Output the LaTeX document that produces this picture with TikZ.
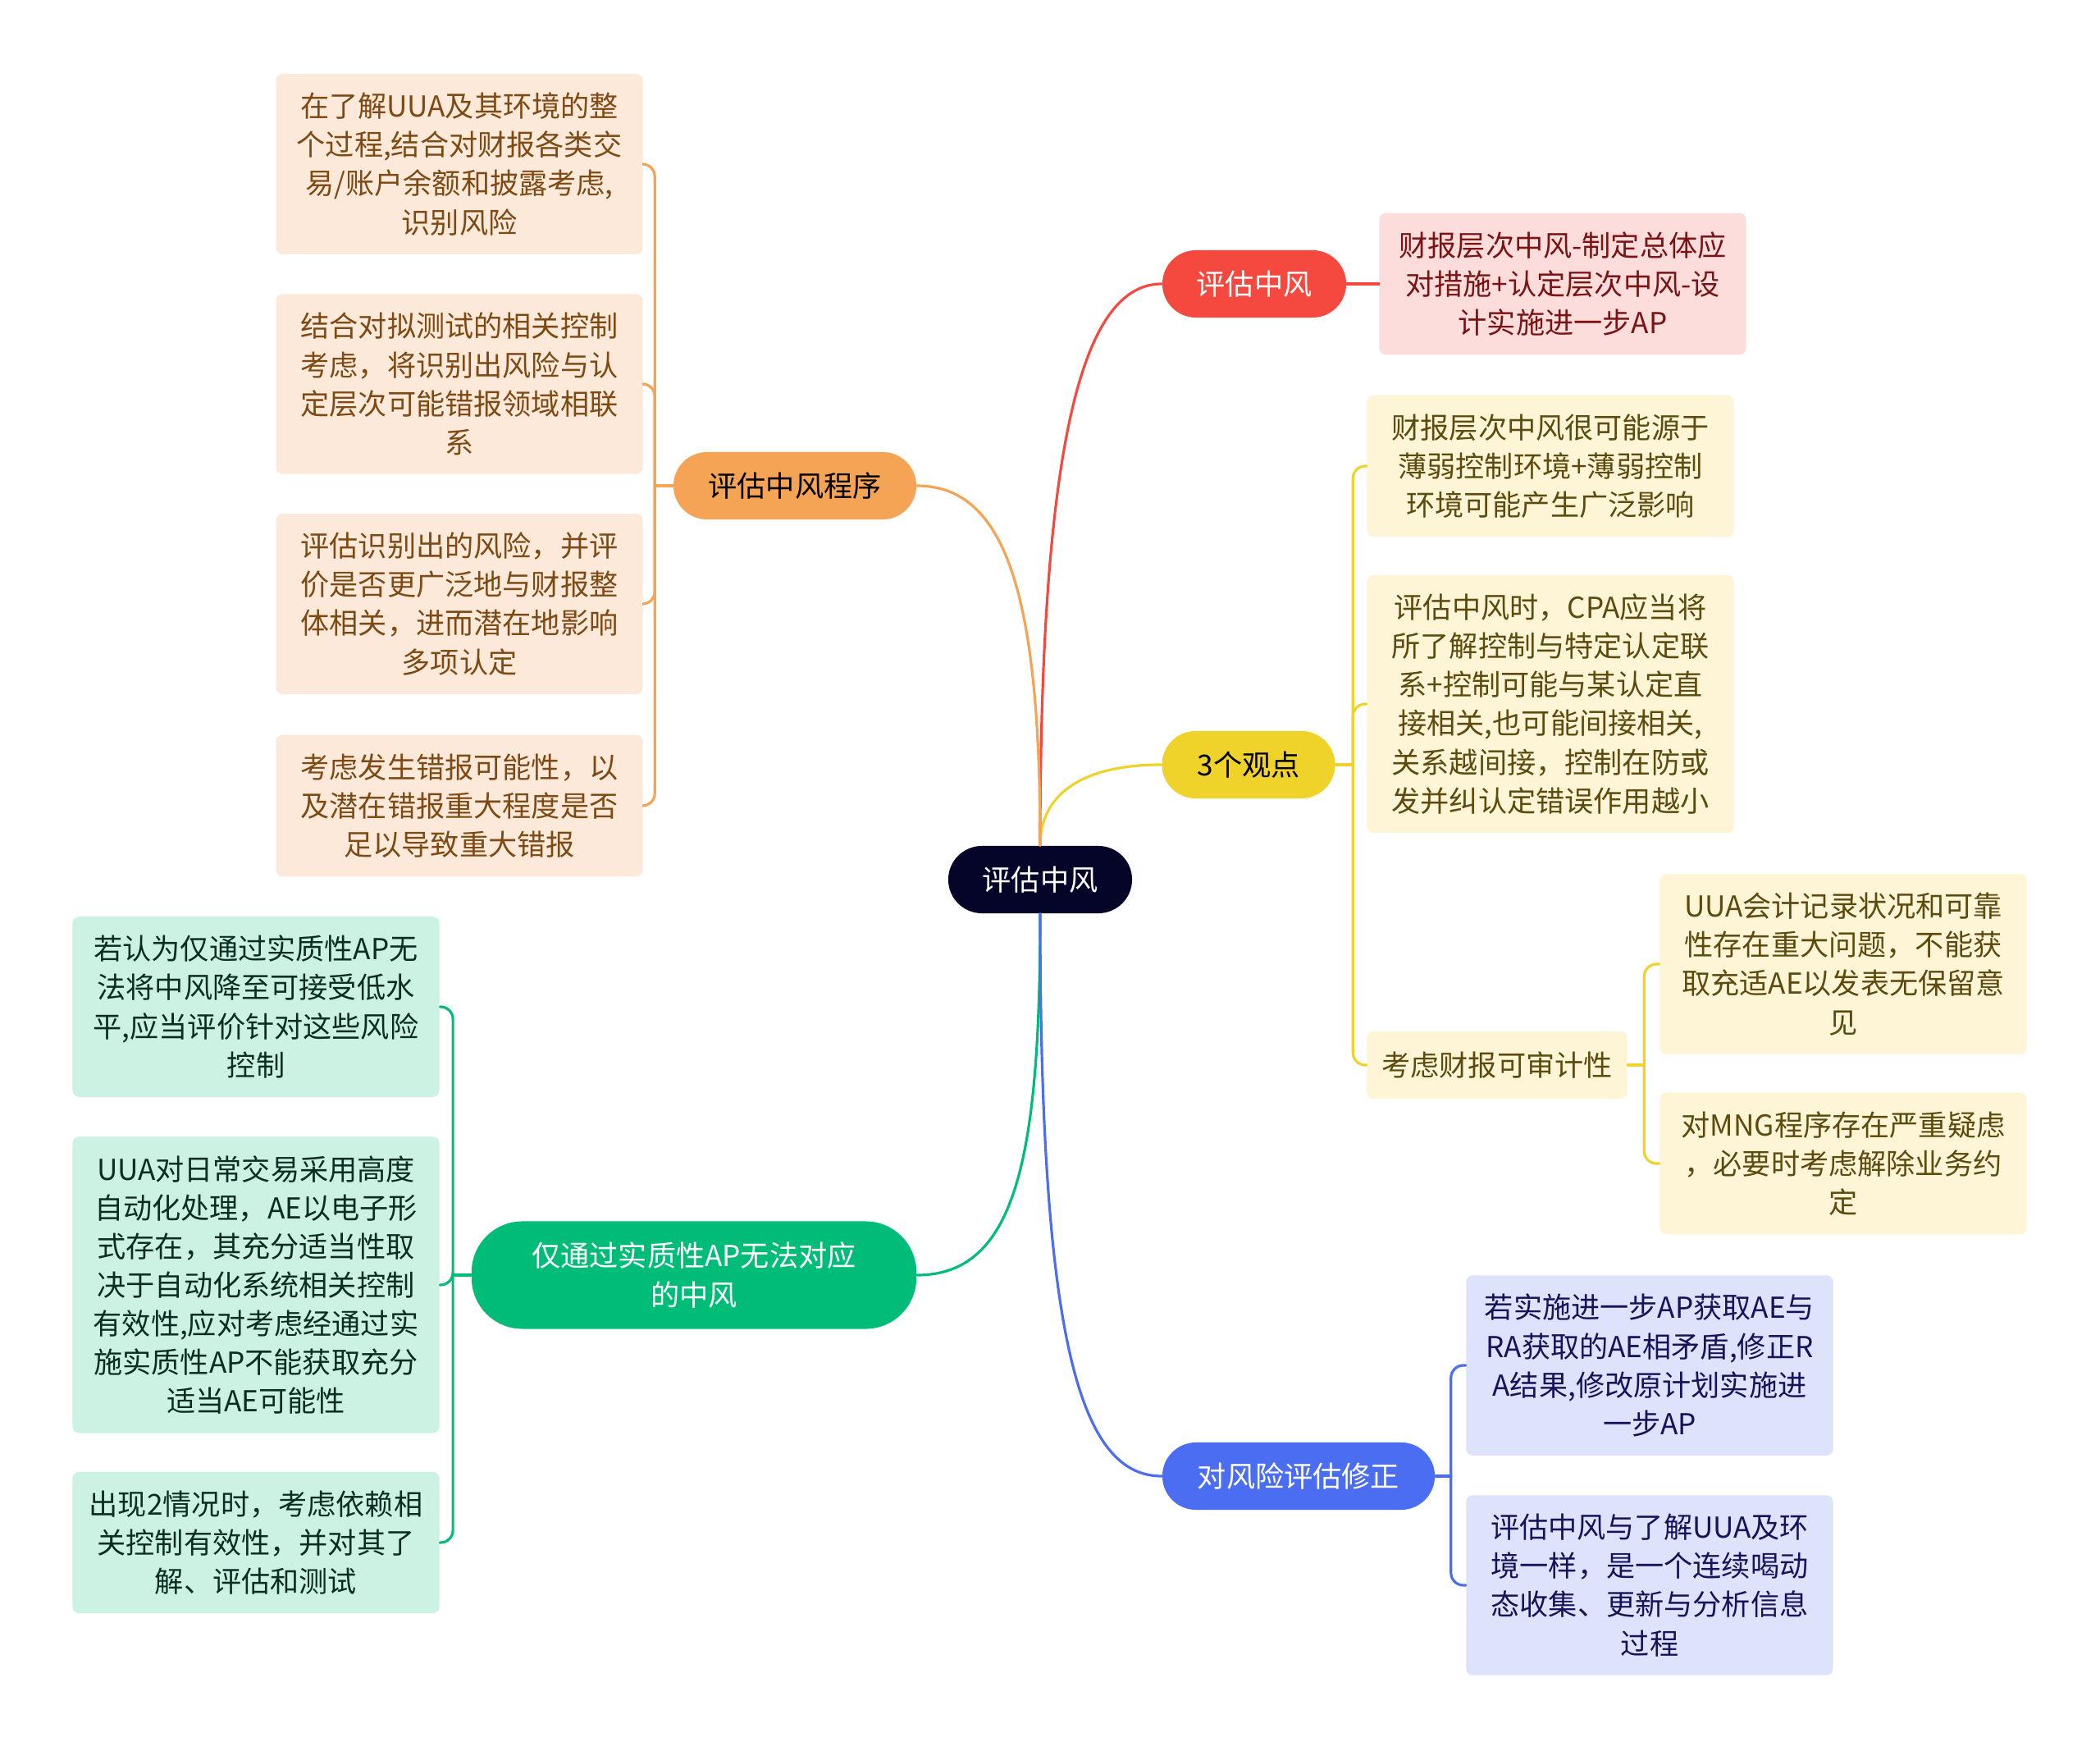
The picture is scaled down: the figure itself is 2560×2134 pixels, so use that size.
\documentclass[tikz,border=0pt]{standalone}
\usepackage{fontspec}
\setmainfont{Noto Sans CJK SC}
\usetikzlibrary{calc}

\definecolor{rootc}{HTML}{05052A}
\definecolor{redc}{HTML}{F5483F}
\definecolor{yelc}{HTML}{F0D32A}
\definecolor{bluc}{HTML}{4A6DF2}
\definecolor{orac}{HTML}{F5A455}
\definecolor{grnc}{HTML}{00BC79}
\definecolor{redl}{HTML}{FDDCDC}
\definecolor{yell}{HTML}{FDF5D5}
\definecolor{blul}{HTML}{DDE3FA}
\definecolor{oral}{HTML}{FDE9DA}
\definecolor{grnl}{HTML}{CCF2E3}
\definecolor{redt}{HTML}{7A1414}
\definecolor{yelt}{HTML}{5C4A0E}
\definecolor{blut}{HTML}{14145A}
\definecolor{orat}{HTML}{7D4A14}
\definecolor{grnt}{HTML}{0B2E22}

\tikzset{
  pill/.style={rounded corners=0.41cm, minimum height=0.82cm, inner sep=0pt, align=center},
  leaf/.style={rounded corners=0.08cm, text width=4.2cm, inner xsep=0.135cm, inner ysep=6.5pt, align=center},
  link/.style={line width=0.9pt, line cap=round},
  fork/.style={link, rounded corners=0.15cm}
}

\begin{document}
\begin{tikzpicture}[x=0.01cm, y=-0.01cm]
\fontsize{10pt}{13.4pt}\selectfont
\useasboundingbox[fill=white] (0,0) rectangle (2560,2134);

% centre
\node[pill, fill=rootc, text=white, minimum width=2.24cm] (root) at (1268,1072) {评估中风};

% main branches
\node[pill, fill=redc, text=white, minimum width=2.24cm] (eval) at (1529,346) {评估中风};
\node[pill, fill=yelc, text=black, minimum width=2.11cm] (views) at (1522,932) {3个观点};
\node[pill, fill=bluc, text=white, minimum width=3.32cm] (fix) at (1583,1799) {对风险评估修正};
\node[pill, fill=orac, text=black, minimum width=2.96cm] (proc) at (969,592) {评估中风程序};
\node[pill, fill=grnc, text=white, minimum width=5.42cm, minimum height=1.31cm, rounded corners=0.62cm] (subst) at (846,1554) {仅通过实质性AP无法对应\\的中风};

% red leaf
\node[leaf, fill=redl, text=redt] (eval1) at (1905,346) {财报层次中风-制定总体应\\对措施+认定层次中风-设\\计实施进一步AP};

% yellow leaves
\node[leaf, fill=yell, text=yelt] (views1) at (1890,568) {财报层次中风很可能源于\\薄弱控制环境+薄弱控制\\环境可能产生广泛影响};
\node[leaf, fill=yell, text=yelt] (views2) at (1890,858) {评估中风时，CPA应当将\\所了解控制与特定认定联\\系+控制可能与某认定直\\接相关,也可能间接相关,\\关系越间接，控制在防或\\发并纠认定错误作用越小};
\node[rounded corners=0.08cm, fill=yell, text=yelt, minimum width=3.17cm, minimum height=0.82cm, inner sep=0pt] (views3) at (1825,1298) {考虑财报可审计性};
\node[leaf, fill=yell, text=yelt] (audit1) at (2247,1175) {UUA会计记录状况和可靠\\性存在重大问题，不能获\\取充适AE以发表无保留意\\见};
\node[leaf, fill=yell, text=yelt] (audit2) at (2247,1418) {对MNG程序存在严重疑虑\\，必要时考虑解除业务约\\定};

% blue leaves
\node[leaf, fill=blul, text=blut] (fix1) at (2011,1664) {若实施进一步AP获取AE与\\RA获取的AE相矛盾,修正R\\A结果,修改原计划实施进\\一步AP};
\node[leaf, fill=blul, text=blut] (fix2) at (2011,1932) {评估中风与了解UUA及环\\境一样，是一个连续喝动\\态收集、更新与分析信息\\过程};

% orange leaves
\node[leaf, fill=oral, text=orat] (proc1) at (560,200) {在了解UUA及其环境的整\\个过程,结合对财报各类交\\易/账户余额和披露考虑,\\识别风险};
\node[leaf, fill=oral, text=orat] (proc2) at (560,468) {结合对拟测试的相关控制\\考虑，将识别出风险与认\\定层次可能错报领域相联\\系};
\node[leaf, fill=oral, text=orat] (proc3) at (560,736) {评估识别出的风险，并评\\价是否更广泛地与财报整\\体相关，进而潜在地影响\\多项认定};
\node[leaf, fill=oral, text=orat] (proc4) at (560,982) {考虑发生错报可能性，以\\及潜在错报重大程度是否\\足以导致重大错报};

% green leaves
\node[leaf, fill=grnl, text=grnt] (subst1) at (312,1227) {若认为仅通过实质性AP无\\法将中风降至可接受低水\\平,应当评价针对这些风险\\控制};
\node[leaf, fill=grnl, text=grnt] (subst2) at (312,1566) {UUA对日常交易采用高度\\自动化处理，AE以电子形\\式存在，其充分适当性取\\决于自动化系统相关控制\\有效性,应对考虑经通过实\\施实质性AP不能获取充分\\适当AE可能性};
\node[leaf, fill=grnl, text=grnt] (subst3) at (312,1880) {出现2情况时，考虑依赖相\\关控制有效性，并对其了\\解、评估和测试};

% centre to branches
\draw[link, redc] (root.north) .. controls +(0,-520) and +(-90,0) .. (eval.west);
\draw[link, yelc] (root.north) .. controls +(0,-60) and +(-100,0) .. (views.west);
\draw[link, orac] (root.north) .. controls +(0,-300) and +(110,0) .. (proc.east);
\draw[link, grnc] (root.south) .. controls +(0,300) and +(120,0) .. (subst.east);
\draw[link, bluc] (root.south) .. controls +(0,520) and +(-100,0) .. (fix.west);

% branches to leaves
\draw[link, redc] (eval.east) -- (eval1.west);

\coordinate (viewsb) at ([xshift=0.21cm]views.east);
\draw[link, yelc] (views.east) -- (viewsb);
\foreach \c in {views1,views2,views3}
  \draw[fork, yelc] (viewsb) |- (\c.west);

\coordinate (auditb) at ([xshift=0.2cm]views3.east);
\draw[link, yelc] (views3.east) -- (auditb);
\foreach \c in {audit1,audit2}
  \draw[fork, yelc] (auditb) |- (\c.west);

\coordinate (fixb) at ([xshift=0.19cm]fix.east);
\draw[link, bluc] (fix.east) -- (fixb);
\foreach \c in {fix1,fix2}
  \draw[fork, bluc] (fixb) |- (\c.west);

\coordinate (procb) at ([xshift=-0.22cm]proc.west);
\draw[link, orac] (proc.west) -- (procb);
\foreach \c in {proc1,proc2,proc3,proc4}
  \draw[fork, orac] (procb) |- (\c.east);

\coordinate (substb) at ([xshift=-0.22cm]subst.west);
\draw[link, grnc] (subst.west) -- (substb);
\foreach \c in {subst1,subst2,subst3}
  \draw[fork, grnc] (substb) |- (\c.east);
\end{tikzpicture}
\end{document}
